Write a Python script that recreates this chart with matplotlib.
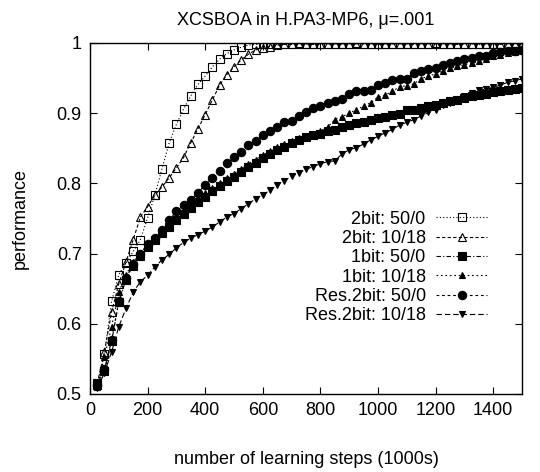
import numpy as np
import matplotlib
matplotlib.use("Agg")
import matplotlib.pyplot as plt

plt.rcParams['font.family'] = ['Liberation Sans', 'DejaVu Sans']

# learning steps (1000s)
steps = np.arange(25, 1501, 25)

labels = ["2bit: 50/0", "2bit: 10/18", "1bit: 50/0", "1bit: 10/18",
          "Res.2bit: 50/0", "Res.2bit: 10/18"]

bit2_50 = [0.513, 0.557, 0.632, 0.670, 0.687, 0.703, 0.720, 0.751, 0.783, 0.821,
           0.858, 0.884, 0.906, 0.925, 0.941, 0.953, 0.966, 0.977, 0.985, 0.990,
           0.994, 0.997, 0.998, 0.999, 0.999, 0.998, 0.999, 0.999, 1.000, 0.999,
           0.999, 0.999, 0.998, 0.999, 0.999, 0.999, 1.000, 0.999, 0.999, 0.999,
           0.999, 0.998, 0.999, 0.999, 0.999, 0.999, 0.999, 1.000, 0.999, 0.999,
           0.999, 0.999, 0.999, 0.998, 0.999, 0.999, 0.999, 0.999, 1.000, 0.999]

bit2_10 = [0.515, 0.560, 0.617, 0.657, 0.688, 0.720, 0.752, 0.767, 0.783, 0.795,
           0.808, 0.822, 0.837, 0.858, 0.878, 0.898, 0.919, 0.940, 0.955, 0.966,
           0.976, 0.984, 0.990, 0.993, 0.995, 0.997, 0.998, 0.998, 0.999, 0.999,
           0.998, 0.999, 0.999, 0.999, 0.998, 0.999, 0.999, 0.999, 0.999, 0.998,
           0.999, 0.999, 0.999, 0.999, 0.998, 0.999, 0.999, 0.999, 0.999, 0.999,
           0.998, 0.999, 0.999, 0.999, 0.999, 0.999, 0.998, 0.999, 0.999, 0.999]

bit1_50 = [0.515, 0.533, 0.575, 0.631, 0.663, 0.683, 0.696, 0.710, 0.720, 0.729,
           0.738, 0.748, 0.756, 0.765, 0.773, 0.781, 0.789, 0.796, 0.803, 0.809,
           0.816, 0.823, 0.829, 0.836, 0.842, 0.848, 0.852, 0.857, 0.862, 0.866,
           0.869, 0.871, 0.874, 0.876, 0.880, 0.883, 0.886, 0.888, 0.890, 0.893,
           0.895, 0.898, 0.899, 0.904, 0.905, 0.907, 0.910, 0.912, 0.915, 0.918,
           0.919, 0.921, 0.924, 0.926, 0.928, 0.930, 0.931, 0.933, 0.934, 0.936]

bit1_10 = [0.510, 0.553, 0.596, 0.645, 0.670, 0.688, 0.701, 0.712, 0.723, 0.733,
           0.742, 0.752, 0.760, 0.770, 0.778, 0.786, 0.793, 0.800, 0.808, 0.814,
           0.821, 0.828, 0.834, 0.840, 0.846, 0.852, 0.856, 0.861, 0.864, 0.867,
           0.870, 0.875, 0.880, 0.891, 0.895, 0.900, 0.905, 0.910, 0.915, 0.923,
           0.926, 0.931, 0.938, 0.939, 0.942, 0.949, 0.953, 0.956, 0.960, 0.964,
           0.967, 0.969, 0.971, 0.974, 0.977, 0.981, 0.983, 0.986, 0.987, 0.988]

res2_50 = [0.513, 0.535, 0.577, 0.632, 0.665, 0.685, 0.699, 0.714, 0.722, 0.734,
           0.748, 0.760, 0.769, 0.777, 0.787, 0.798, 0.808, 0.817, 0.829, 0.838,
           0.845, 0.854, 0.860, 0.869, 0.874, 0.880, 0.888, 0.889, 0.896, 0.902,
           0.907, 0.910, 0.915, 0.918, 0.920, 0.928, 0.931, 0.932, 0.933, 0.940,
           0.943, 0.947, 0.949, 0.949, 0.957, 0.960, 0.963, 0.964, 0.969, 0.971,
           0.974, 0.977, 0.979, 0.981, 0.982, 0.986, 0.987, 0.988, 0.989, 0.990]

res2_10 = [0.508, 0.530, 0.560, 0.596, 0.622, 0.645, 0.660, 0.669, 0.681, 0.691,
           0.699, 0.708, 0.716, 0.722, 0.727, 0.732, 0.738, 0.745, 0.752, 0.757,
           0.764, 0.771, 0.778, 0.784, 0.790, 0.798, 0.804, 0.810, 0.815, 0.820,
           0.824, 0.828, 0.831, 0.832, 0.842, 0.848, 0.851, 0.856, 0.862, 0.867,
           0.872, 0.877, 0.883, 0.887, 0.891, 0.896, 0.901, 0.905, 0.912, 0.915,
           0.919, 0.924, 0.929, 0.933, 0.934, 0.937, 0.940, 0.944, 0.946, 0.949]

series = [bit2_50, bit2_10, bit1_50, bit1_10, res2_50, res2_10]
markers = ['s', '^', 's', '^', 'o', 'v']
msizes = [6, 6, 5.5, 4.5, 6, 4.5]
filled = [False, False, True, True, True, True]
dashes = [(1, 2), (3, 2), (4, 2, 1, 2), (1.5, 2.5), (2.5, 2.5), (5, 2.5)]

fs = 13

fig = plt.figure(figsize=(5.4, 4.72), dpi=100)
ax = fig.add_axes([0.1667, 0.1653, 0.80, 0.7436])

for ys, lab, m, ms, f, d in zip(series, labels, markers, msizes, filled, dashes):
    ax.plot(steps, ys, color='black', lw=0.8, dashes=d, marker=m, ms=ms,
            mfc='black' if f else 'none', mec='black', mew=0.8, label=lab)

ax.set_xlim(0, 1500)
ax.set_ylim(0.5, 1.0)
ax.set_xticks(range(0, 1401, 200))
ax.set_yticks([0.5, 0.6, 0.7, 0.8, 0.9, 1.0])
ax.set_yticklabels(['0.5', '0.6', '0.7', '0.8', '0.9', '1'])
ax.tick_params(direction='in', top=True, right=True, length=5, width=0.8,
               labelsize=fs, pad=6)
for sp in ax.spines.values():
    sp.set_linewidth(1.0)

ax.set_title("XCSBOA in H.PA3-MP6, \u03bc=.001", fontsize=fs, pad=13)
ax.set_xlabel("number of learning steps (1000s)", fontsize=fs, labelpad=23)
ax.set_ylabel("performance", fontsize=fs, labelpad=20)

# markerfirst=False -> text right-aligned, sample on the right (gnuplot style)
leg = ax.legend(loc='center right', bbox_to_anchor=(0.919, 0.36), frameon=False,
                fontsize=fs, markerfirst=False, numpoints=1, handlelength=2.8,
                handletextpad=0.6, labelspacing=0.13, borderpad=0, borderaxespad=0)

fig.savefig("out.png", dpi=100)
